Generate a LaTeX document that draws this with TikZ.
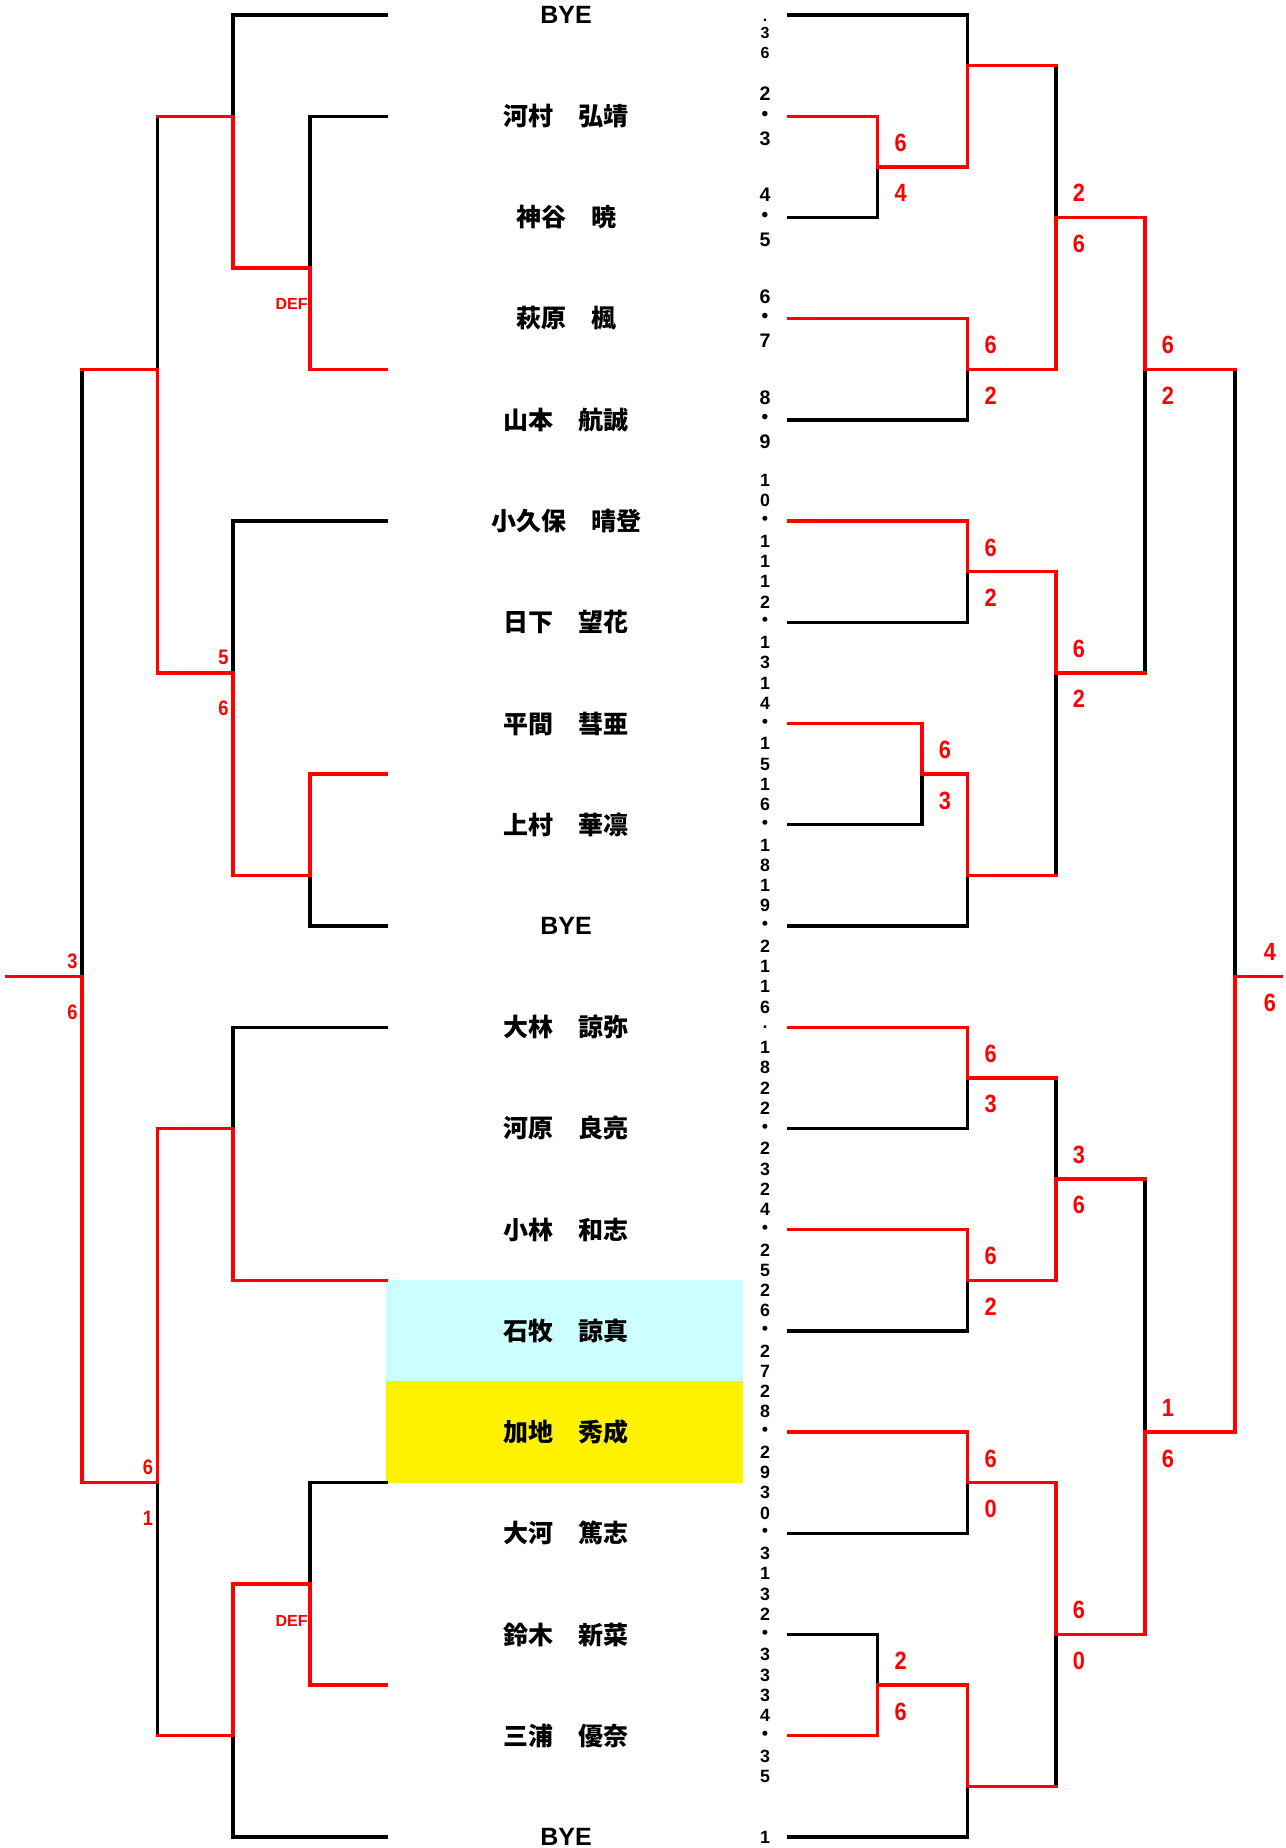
\documentclass[tikz,border=0pt]{standalone}
\usepackage{fontspec}
\newfontfamily\jpfont{Noto Sans CJK JP}
\newfontfamily\scorefont{Liberation Sans}[FakeStretch=0.87]
\newfontfamily\deffont{Liberation Sans}
\newcommand\ndot{{\jpfont\bfseries ・}}
\definecolor{paleCyan}{RGB}{204,255,255}
\tikzset{
  win/.style={red, line width=1.7pt, line cap=rect},
  lose/.style={black, line width=1.7pt, line cap=rect},
  player/.style={inner sep=0pt, font=\jpfont\bfseries\fontsize{12.5}{14}\selectfont},
  byebox/.style={inner sep=0pt, font=\deffont\bfseries\fontsize{12.5}{14}\selectfont},
  rscore/.style={red, inner sep=0pt, font=\scorefont\bfseries\fontsize{12.5}{14}\selectfont},
  lscore/.style={red, anchor=east, inner sep=0pt, font=\scorefont\bfseries\fontsize{10.5}{12}\selectfont},
  defmark/.style={red, anchor=east, inner sep=0pt, font=\deffont\bfseries\fontsize{8}{9}\selectfont},
  numch/.style={inner sep=0pt, font=\deffont\bfseries\fontsize{8.9}{10}\selectfont},
  numbig/.style={numch, font=\deffont\bfseries\fontsize{9.8}{11}\selectfont},
  numsmall/.style={numch, font=\deffont\bfseries\fontsize{8}{9}\selectfont}
}

\begin{document}
\begin{tikzpicture}[x=0.5pt, y=-50.61pt]%1 x unit = 1px, 1 y unit = 1 row
  \useasboundingbox (0,-0.1482) rectangle (1285,18.109);
  % highlighted rows
  \fill[paleCyan] (386,12.5) rectangle (742.6,13.5);
  \fill[yellow] (386,13.5) rectangle (742.6,14.5);

  % players
  \foreach \name [count=\i] in {河村　弘靖,神谷　暁,萩原　楓,山本　航誠,小久保　晴登,日下　望花,平間　彗亜,上村　華凛}
    \node[player] (p\i) at (566,\i) {\name};
  \foreach \name [count=\i from 10] in {大林　諒弥,河原　良亮,小林　和志,石牧　諒真,加地　秀成,大河　篤志,鈴木　新菜,三浦　優奈}
    \node[player] (p\i) at (566,\i) {\name};
  \foreach \i in {0,9,18}
    \node[byebox] (p\i) at (566,\i) {BYE};

  % number column
  \node[numsmall] (t0a) at (765,0.05) {.};
  \node[numsmall] (t0b) at (765,0.18) {3};
  \node[numsmall] (t0c) at (765,0.38) {6};
  \foreach \a/\b [count=\r] in {2/3,4/5,6/7,8/9} {
    \node[numbig] (ta\r) at (765,\r-0.22) {\a};
    \node[numbig] (tm\r) at (765,\r) {\ndot};
    \node[numbig] (tb\r) at (765,\r+0.22) {\b};
  }
  \foreach \c [count=\i from 0] in {1,0,\ndot,1,1,1,2,\ndot,1,3,1,4,\ndot,1,5,1,6,\ndot,1,8,1,9,\ndot,2,1,1,6,.,1,8,2,2,\ndot,2,3,2,4,\ndot,2,5,2,6,\ndot,2,7,2,8,\ndot,2,9,3,0,\ndot,3,1,3,2,\ndot,3,3,3,4,\ndot,3,5}
    \node[numch] (c\i) at (765,4.6+0.2*\i) {\c};
  \node[numch] (cend) at (765,18) {1};

  % left bracket
  \draw[lose] (386,0) -- (233,0) -- (233,1);
  \draw[lose] (386,1) -- (310,1) -- (310,2.5);
  \draw[lose] (157.5,1) -- (157.5,3.5);
  \draw[lose] (386,5) -- (233,5) -- (233,6.5);
  \draw[lose] (386,9) -- (310,9) -- (310,8.5);
  \draw[lose] (82,3.5) -- (82,9.5);
  \draw[lose] (386,10) -- (233,10) -- (233,11);
  \draw[lose] (386,14.5) -- (310,14.5) -- (310,15.5);
  \draw[lose] (386,18) -- (233,18) -- (233,17);
  \draw[lose] (157.5,14.5) -- (157.5,17);
  \draw[win] (386,3.5) -- (310,3.5) -- (310,2.5) -- (233,2.5) -- (233,1) -- (157.5,1);
  \draw[win] (386,7.5) -- (310,7.5) -- (310,8.5) -- (233,8.5) -- (233,6.5) -- (157.5,6.5) -- (157.5,3.5) -- (82,3.5);
  \draw[win] (386,12.5) -- (233,12.5) -- (233,11) -- (157.5,11) -- (157.5,14.5) -- (82,14.5) -- (82,9.5) -- (7,9.5);
  \draw[win] (386,16.5) -- (310,16.5) -- (310,15.5) -- (233,15.5) -- (233,17) -- (157.5,17);

  % right bracket
  \draw[lose] (789,0) -- (967.6,0) -- (967.6,0.5);
  \draw[lose] (789,2) -- (877.6,2) -- (877.6,1.5);
  \draw[lose] (789,4) -- (967.6,4) -- (967.6,3.5);
  \draw[lose] (789,6) -- (967.6,6) -- (967.6,5.5);
  \draw[lose] (789,8) -- (922,8) -- (922,7.5);
  \draw[lose] (789,9) -- (967.6,9) -- (967.6,8.5);
  \draw[lose] (1056,0.5) -- (1056,2);
  \draw[lose] (1056,6.5) -- (1056,8.5);
  \draw[lose] (1145,3.5) -- (1145,6.5);
  \draw[lose] (789,11) -- (967.6,11) -- (967.6,10.5);
  \draw[lose] (789,13) -- (967.6,13) -- (967.6,12.5);
  \draw[lose] (1056,10.5) -- (1056,11.5);
  \draw[lose] (789,15) -- (967.6,15) -- (967.6,14.5);
  \draw[lose] (789,16) -- (877.6,16) -- (877.6,16.5);
  \draw[lose] (789,18) -- (967.6,18) -- (967.6,17.5);
  \draw[lose] (1056,16) -- (1056,17.5);
  \draw[lose] (1145,11.5) -- (1145,14);
  \draw[lose] (1235,3.5) -- (1235,9.5);
  \draw[win] (789,1) -- (877.6,1) -- (877.6,1.5) -- (967.6,1.5) -- (967.6,0.5) -- (1056,0.5);
  \draw[win] (789,3) -- (967.6,3) -- (967.6,3.5) -- (1056,3.5) -- (1056,2) -- (1145,2) -- (1145,3.5) -- (1235,3.5);
  \draw[win] (789,5) -- (967.6,5) -- (967.6,5.5) -- (1056,5.5) -- (1056,6.5) -- (1145,6.5);
  \draw[win] (789,7) -- (922,7) -- (922,7.5) -- (967.6,7.5) -- (967.6,8.5) -- (1056,8.5);
  \draw[win] (789,10) -- (967.6,10) -- (967.6,10.5) -- (1056,10.5);
  \draw[win] (789,12) -- (967.6,12) -- (967.6,12.5) -- (1056,12.5) -- (1056,11.5) -- (1145,11.5);
  \draw[win] (789,14) -- (967.6,14) -- (967.6,14.5) -- (1056,14.5) -- (1056,16) -- (1145,16) -- (1145,14) -- (1235,14) -- (1235,9.5) -- (1281,9.5);
  \draw[win] (789,17) -- (877.6,17) -- (877.6,16.5) -- (967.6,16.5) -- (967.6,17.5) -- (1056,17.5);

  % scores
  \foreach \x/\y/\a/\b [count=\k] in {877.6/1.5/6/4, 967.6/3.5/6/2, 1056/2/2/6, 967.6/5.5/6/2, 922/7.5/6/3, 1056/6.5/6/2, 1145/3.5/6/2, 967.6/10.5/6/3, 967.6/12.5/6/2, 1056/11.5/3/6, 967.6/14.5/6/0, 877.6/16.5/2/6, 1056/16/6/0, 1145/14/1/6} {
    \node[rscore] (ra\k) at (\x+23,\y-0.24) {\a};
    \node[rscore] (rb\k) at (\x+23,\y+0.26) {\b};
  }
  \node[rscore] (rfa) at (1270,9.26) {4};
  \node[rscore] (rfb) at (1270,9.76) {6};
  \foreach \x/\y/\a/\b [count=\k] in {233/6.5/5/6, 82/9.5/3/6, 157.5/14.5/6/1} {
    \node[lscore] (la\k) at (\x-4,\y-0.15) {\a};
    \node[lscore] (lb\k) at (\x-4,\y+0.35) {\b};
  }
  \node[defmark] (def1) at (308,2.86) {DEF};
  \node[defmark] (def2) at (308,15.87) {DEF};
\end{tikzpicture}
\end{document}
